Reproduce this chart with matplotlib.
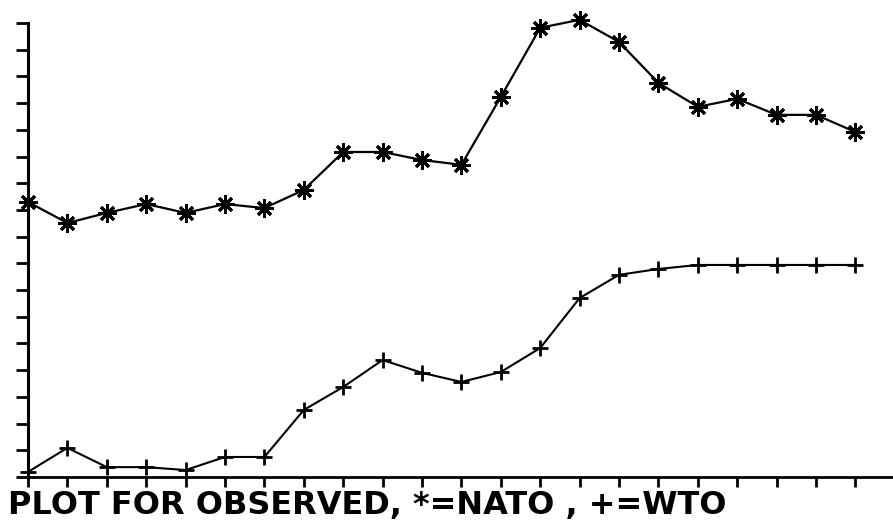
import matplotlib
matplotlib.use("Agg")
import matplotlib.pyplot as plt

# observation index (22 periods)
periods = list(range(22))

# values in axis-tick units
nato = [10.30, 9.51, 9.89, 10.22, 9.89, 10.22, 10.07, 10.75, 12.17, 12.17, 11.87,
        11.69, 14.23, 16.82, 17.12, 16.29, 14.76, 13.86, 14.16, 13.56, 13.56, 12.92]
wto = [0.19, 1.09, 0.37, 0.37, 0.26, 0.75, 0.75, 2.51, 3.37, 4.38, 3.90,
       3.56, 3.93, 4.83, 6.70, 7.57, 7.79, 7.94, 7.94, 7.94, 7.94, 7.94]

y_ticks = list(range(18))
x_ticks = list(range(22))
caption = "PLOT FOR OBSERVED, *=NATO , +=WTO"

W, H = 893, 520
fig = plt.figure(figsize=(W / 100, H / 100), dpi=100)
fig.patch.set_facecolor("white")
ax = fig.add_axes([28 / W, (H - 477) / H, 1 - 28 / W, (477 - 23) / H])
ax.set_facecolor("white")

ax.plot(periods, nato, color="black", lw=1.6, marker=(8, 2, 0), ms=13, mew=2.1,
        mec="black", clip_on=False, zorder=3)
ax.plot(periods, wto, color="black", lw=1.5, marker="+", ms=12, mew=2.0,
        mec="black", clip_on=False, zorder=3)

ax.set_xlim(0, (W - 28) / 39.4)
ax.set_ylim(0, 17)
ax.set_xticks(x_ticks)
ax.set_yticks(y_ticks)
ax.set_xticklabels([])
ax.set_yticklabels([])
ax.tick_params(axis="y", direction="out", length=9, width=2, color="black")
ax.tick_params(axis="x", direction="out", length=7, width=2, color="black")
for s in ["top", "right"]:
    ax.spines[s].set_visible(False)
ax.spines["left"].set_linewidth(2.2)
ax.spines["bottom"].set_linewidth(2.0)

fig.text(8 / W, (H - 514) / H, caption, fontsize=23, family="DejaVu Sans",
         fontweight="bold", color="black", ha="left", va="baseline")

fig.savefig("out.png", dpi=100, facecolor="white")
